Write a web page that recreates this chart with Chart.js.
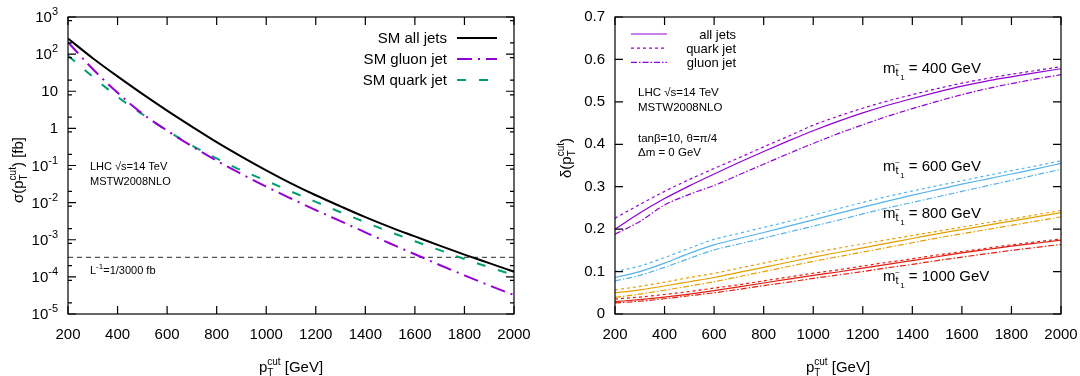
<!DOCTYPE html>
<html>
<head>
<meta charset="utf-8">
<script src="https://cdn.jsdelivr.net/npm/chart.js@4.4.1/dist/chart.umd.min.js"></script>
<style>
  html, body { margin: 0; padding: 0; background: #fff; }
  #wrap { position: relative; width: 1080px; height: 376px; }
  canvas { position: absolute; top: 0; }
</style>
</head>
<body>
<div id="wrap">
  <canvas id="left" width="540" height="376" style="left:0"></canvas>
  <canvas id="right" width="540" height="376" style="left:540px"></canvas>
</div>
<script>
// pT cut values (GeV)
const pT = [200, 300, 400, 500, 600, 700, 800, 900, 1000, 1100, 1200, 1300, 1400, 1500, 1600, 1700, 1800, 1900, 2000];
const xTicks = [200, 400, 600, 800, 1000, 1200, 1400, 1600, 1800, 2000];

// left panel: sigma(pT cut) in fb
const sigmaAll   = [263, 77.6, 25.1, 8.51, 3.02, 1.12, 0.427, 0.174, 0.0741, 0.0331, 0.0158, 0.00794, 0.00407, 0.00219, 0.00123, 6.92e-4, 3.98e-4, 2.34e-4, 1.38e-4];
const sigmaGluon = [209, 39.8, 9.12, 2.51, 0.871, 0.331, 0.135, 0.0589, 0.0269, 0.0129, 0.00631, 0.00316, 0.00158, 7.94e-4, 4.07e-4, 2.09e-4, 1.10e-4, 5.89e-5, 3.24e-5];
const sigmaQuark = [91.2, 24.5, 7.08, 2.40, 0.871, 0.347, 0.155, 0.0741, 0.0389, 0.0200, 0.0105, 0.0055, 0.00295, 0.00162, 9.12e-4, 5.25e-4, 3.02e-4, 1.82e-4, 1.12e-4];
const lumiX = [200, 2000];
const lumiY = [1 / 3000, 1 / 3000];
const logExps = [-5, -4, -3, -2, -1, 0, 1, 2, 3];

// right panel: delta(pT cut) for each stop mass
const d400All    = [0.200, 0.238, 0.272, 0.302, 0.330, 0.357, 0.383, 0.408, 0.432, 0.454, 0.474, 0.492, 0.508, 0.523, 0.537, 0.549, 0.559, 0.569, 0.578];
const d400Quark  = [0.226, 0.258, 0.289, 0.317, 0.343, 0.368, 0.394, 0.419, 0.445, 0.466, 0.485, 0.502, 0.517, 0.531, 0.544, 0.555, 0.565, 0.574, 0.583];
const d400Gluon  = [0.188, 0.218, 0.257, 0.282, 0.303, 0.328, 0.353, 0.378, 0.402, 0.425, 0.446, 0.466, 0.484, 0.501, 0.517, 0.531, 0.543, 0.554, 0.564];
const d600All    = [0.086, 0.100, 0.120, 0.143, 0.163, 0.178, 0.192, 0.207, 0.222, 0.237, 0.252, 0.266, 0.280, 0.293, 0.306, 0.318, 0.330, 0.342, 0.355];
const d600Quark  = [0.100, 0.113, 0.133, 0.155, 0.176, 0.190, 0.204, 0.218, 0.233, 0.248, 0.263, 0.277, 0.290, 0.302, 0.314, 0.326, 0.338, 0.349, 0.361];
const d600Gluon  = [0.078, 0.091, 0.110, 0.131, 0.151, 0.165, 0.179, 0.193, 0.207, 0.221, 0.236, 0.250, 0.263, 0.276, 0.289, 0.302, 0.315, 0.328, 0.341];
const d800All    = [0.050, 0.057, 0.066, 0.076, 0.086, 0.098, 0.110, 0.122, 0.134, 0.145, 0.156, 0.167, 0.178, 0.189, 0.199, 0.209, 0.219, 0.229, 0.239];
const d800Quark  = [0.057, 0.065, 0.075, 0.086, 0.096, 0.108, 0.120, 0.132, 0.144, 0.155, 0.165, 0.175, 0.185, 0.195, 0.205, 0.215, 0.224, 0.234, 0.244];
const d800Gluon  = [0.039, 0.047, 0.056, 0.066, 0.076, 0.088, 0.100, 0.112, 0.124, 0.135, 0.146, 0.157, 0.168, 0.179, 0.189, 0.199, 0.209, 0.219, 0.229];
const d1000All   = [0.029, 0.034, 0.040, 0.047, 0.055, 0.064, 0.073, 0.082, 0.091, 0.099, 0.108, 0.117, 0.126, 0.135, 0.144, 0.152, 0.160, 0.167, 0.174];
const d1000Quark = [0.035, 0.040, 0.046, 0.053, 0.061, 0.069, 0.078, 0.087, 0.096, 0.104, 0.113, 0.122, 0.130, 0.139, 0.147, 0.155, 0.163, 0.170, 0.177];
const d1000Gluon = [0.026, 0.030, 0.036, 0.043, 0.050, 0.058, 0.067, 0.075, 0.084, 0.092, 0.100, 0.109, 0.117, 0.126, 0.134, 0.142, 0.150, 0.157, 0.164];
const yTicksRight = [0, 0.1, 0.2, 0.3, 0.4, 0.5, 0.6, 0.7];

const FONT = '"Liberation Sans", Arial, sans-serif';
const f = s => s + 'px ' + FONT;
const pts = (xs, ys) => xs.map((v, i) => ({ x: v, y: ys[i] }));

// draw text made of pieces: [text, size, dy, dx] or {stack: [[..],[..]]}
function rich(ctx, segs, x, y, align) {
  const widths = segs.map(g => {
    const items = g.stack || [g];
    return Math.max(...items.map(([t, s]) => { ctx.font = f(s); return ctx.measureText(t).width; }));
  });
  const total = widths.reduce((a, b) => a + b, 0);
  let cx = align === 'right' ? x - total : align === 'center' ? x - total / 2 : x;
  ctx.textAlign = 'left';
  ctx.textBaseline = 'alphabetic';
  segs.forEach((g, i) => {
    const items = g.stack || [g];
    for (const [t, s, dy, dx] of items) {
      ctx.font = f(s);
      ctx.fillText(t, cx + (dx || 0), y + (dy || 0));
    }
    cx += widths[i];
  });
}

function frame(chart, yMajor, yMinor) {
  const { ctx, chartArea: a, scales: { x, y } } = chart;
  ctx.save();
  ctx.strokeStyle = '#000';
  ctx.lineWidth = 1.2;
  ctx.setLineDash([]);
  ctx.strokeRect(a.left, a.top, a.right - a.left, a.bottom - a.top);
  ctx.beginPath();
  for (const v of xTicks) {
    const px = x.getPixelForValue(v);
    ctx.moveTo(px, a.bottom); ctx.lineTo(px, a.bottom - 8);
    ctx.moveTo(px, a.top); ctx.lineTo(px, a.top + 8);
  }
  for (const v of yMajor) {
    const py = y.getPixelForValue(v);
    ctx.moveTo(a.left, py); ctx.lineTo(a.left + 8, py);
    ctx.moveTo(a.right, py); ctx.lineTo(a.right - 8, py);
  }
  for (const v of yMinor) {
    const py = y.getPixelForValue(v);
    ctx.moveTo(a.left, py); ctx.lineTo(a.left + 4, py);
    ctx.moveTo(a.right, py); ctx.lineTo(a.right - 4, py);
  }
  ctx.stroke();
  ctx.restore();
}

function legendSample(ctx, x0, x1, yy, color, width, dash) {
  ctx.save();
  ctx.strokeStyle = color;
  ctx.lineWidth = width;
  ctx.setLineDash(dash);
  ctx.beginPath();
  ctx.moveTo(x0, yy); ctx.lineTo(x1, yy);
  ctx.stroke();
  ctx.restore();
}

const xScale = {
  type: 'linear', min: 200, max: 2000,
  grid: { display: false, drawTicks: false }, border: { display: false },
  afterBuildTicks: s => { s.ticks = xTicks.map(v => ({ value: v })); },
  ticks: {
    autoSkip: false, maxRotation: 0, color: '#000', font: { size: 15, family: FONT }, padding: 12,
    callback: v => String(v)
  },
  afterFit: s => { s.height = 62; s.paddingLeft = 0; s.paddingRight = 0; }
};

// ---------- left panel ----------
const leftDecor = {
  id: 'leftDecor',
  afterDraw(chart) {
    const { ctx, scales: { y } } = chart;
    const major = logExps.map(e => Math.pow(10, e));
    const minor = [];
    logExps.slice(0, -1).forEach(e => { minor.push(2 * Math.pow(10, e), 8 * Math.pow(10, e)); });
    frame(chart, major, minor);
    ctx.save();
    ctx.fillStyle = '#000';
    for (const e of logExps) {
      const py = y.getPixelForValue(Math.pow(10, e)) + 5;
      if (e === 0) rich(ctx, [['1', 15]], 58, py, 'right');
      else if (e === 1) rich(ctx, [['10', 15]], 58, py, 'right');
      else rich(ctx, [['10', 15], [String(e), 11, -7]], 58, py, 'right');
    }
    // legend
    const ds = chart.data.datasets;
    [0, 1, 2].forEach(i => {
      const yy = 38 + i * 21;
      ctx.fillStyle = '#000';
      rich(ctx, [[ds[i].label, 15]], 447, yy + 5, 'right');
      legendSample(ctx, 457, 497, yy, ds[i].borderColor, 2, ds[i].borderDash || []);
    });
    // annotations
    ctx.fillStyle = '#000';
    rich(ctx, [['LHC \u221As=14 TeV', 11]], 90, 170, 'left');
    rich(ctx, [['MSTW2008NLO', 11]], 90, 185, 'left');
    rich(ctx, [['L', 11], ['-1', 8, -5], ['=1/3000 fb', 11]], 90, 274, 'left');
    // axis titles
    rich(ctx, [['p', 15], { stack: [['T', 10, 4], ['cut', 10, -7]] }, [' [GeV]', 15]], 291, 372, 'center');
    ctx.translate(23, 170);
    ctx.rotate(-Math.PI / 2);
    rich(ctx, [['\u03C3(p', 15], { stack: [['T', 10, 4], ['cut', 10, -7]] }, [') [fb]', 15]], 0, 0, 'center');
    ctx.restore();
  }
};

new Chart(document.getElementById('left'), {
  type: 'line',
  data: {
    datasets: [
      { label: 'SM all jets', data: pts(pT, sigmaAll), borderColor: '#000000', borderWidth: 2 },
      { label: 'SM gluon jet', data: pts(pT, sigmaGluon), borderColor: '#9400D3', borderWidth: 2, borderDash: [15, 6, 2, 6] },
      { label: 'SM quark jet', data: pts(pT, sigmaQuark), borderColor: '#009E73', borderWidth: 2, borderDash: [9, 13] },
      { label: 'lumi', data: pts(lumiX, lumiY), borderColor: '#555555', borderWidth: 1.2, borderDash: [5, 4], cubicInterpolationMode: 'default', tension: 0 }
    ]
  },
  options: {
    responsive: false, animation: false, devicePixelRatio: 1,
    layout: { padding: { top: 17, right: 26, left: 0, bottom: 0 } },
    elements: { point: { radius: 0 }, line: { cubicInterpolationMode: 'monotone', fill: false } },
    plugins: { legend: { display: false }, tooltip: { enabled: false } },
    scales: {
      x: xScale,
      y: {
        type: 'logarithmic', min: 1e-5, max: 1e3,
        grid: { display: false, drawTicks: false }, border: { display: false },
        ticks: { display: false },
        afterFit: s => { s.width = 68; s.paddingTop = 0; s.paddingBottom = 0; }
      }
    }
  },
  plugins: [leftDecor]
});

// ---------- right panel ----------
const C400 = '#9400D3', C600 = '#56B4E9', C800 = '#E69F00', C1000 = '#E51E10';
const DOT = [3, 3], DASHDOT = [6, 2, 1.5, 2];

const rightDecor = {
  id: 'rightDecor',
  afterDraw(chart) {
    const { ctx } = chart;
    frame(chart, yTicksRight, []);
    ctx.save();
    // legend
    [['all jets', []], ['quark jet', DOT], ['gluon jet', DASHDOT]].forEach(([t, d], i) => {
      const yy = 34 + i * 14.2;
      ctx.fillStyle = '#000';
      rich(ctx, [[t, 13]], 196, yy + 4.5, 'right');
      legendSample(ctx, 91, 127, yy, C400, 1.2, d);
    });
    ctx.fillStyle = '#000';
    rich(ctx, [['LHC \u221As=14 TeV', 11.5]], 98, 96, 'left');
    rich(ctx, [['MSTW2008NLO', 11.5]], 98, 111, 'left');
    rich(ctx, [['tan\u03B2=10, \u03B8=\u03C0/4', 11.5]], 98, 142, 'left');
    rich(ctx, [['\u0394m = 0 GeV', 11.5]], 98, 156, 'left');
    [['400', 73], ['600', 171], ['800', 218], ['1000', 281]].forEach(([m, yy]) => {
      rich(ctx, [['m', 15], { stack: [['t', 11, 3], ['~', 8, -6, -0.5]] }, ['1', 8, 7], [' = ' + m + ' GeV', 15]], 343, yy, 'left');
    });
    rich(ctx, [['p', 15], { stack: [['T', 10, 4], ['cut', 10, -7]] }, [' [GeV]', 15]], 298, 372, 'center');
    ctx.translate(31, 158);
    ctx.rotate(-Math.PI / 2);
    rich(ctx, [['\u03B4(p', 15], { stack: [['T', 10, 4], ['cut', 10, -7]] }, [')', 15]], 0, 0, 'center');
    ctx.restore();
  }
};

const line = (data, color, dash) => ({ data: pts(pT, data), borderColor: color, borderWidth: 1.2, borderDash: dash });

new Chart(document.getElementById('right'), {
  type: 'line',
  data: {
    datasets: [
      line(d400All, C400, []), line(d400Quark, C400, DOT), line(d400Gluon, C400, DASHDOT),
      line(d600All, C600, []), line(d600Quark, C600, DOT), line(d600Gluon, C600, DASHDOT),
      line(d800All, C800, []), line(d800Quark, C800, DOT), line(d800Gluon, C800, DASHDOT),
      line(d1000All, C1000, []), line(d1000Quark, C1000, DOT), line(d1000Gluon, C1000, DASHDOT)
    ]
  },
  options: {
    responsive: false, animation: false, devicePixelRatio: 1,
    layout: { padding: { top: 17, right: 19, left: 0, bottom: 0 } },
    elements: { point: { radius: 0 }, line: { cubicInterpolationMode: 'monotone', fill: false } },
    plugins: { legend: { display: false }, tooltip: { enabled: false } },
    scales: {
      x: xScale,
      y: {
        type: 'linear', min: 0, max: 0.7,
        grid: { display: false, drawTicks: false }, border: { display: false },
        afterBuildTicks: s => { s.ticks = yTicksRight.map(v => ({ value: v })); },
        ticks: {
          color: '#000', font: { size: 15, family: FONT }, padding: 10,
          callback: v => (v === 0 ? '0' : v.toFixed(1))
        },
        afterFit: s => { s.width = 75; s.paddingTop = 0; s.paddingBottom = 0; }
      }
    }
  },
  plugins: [rightDecor]
});
</script>
</body>
</html>
